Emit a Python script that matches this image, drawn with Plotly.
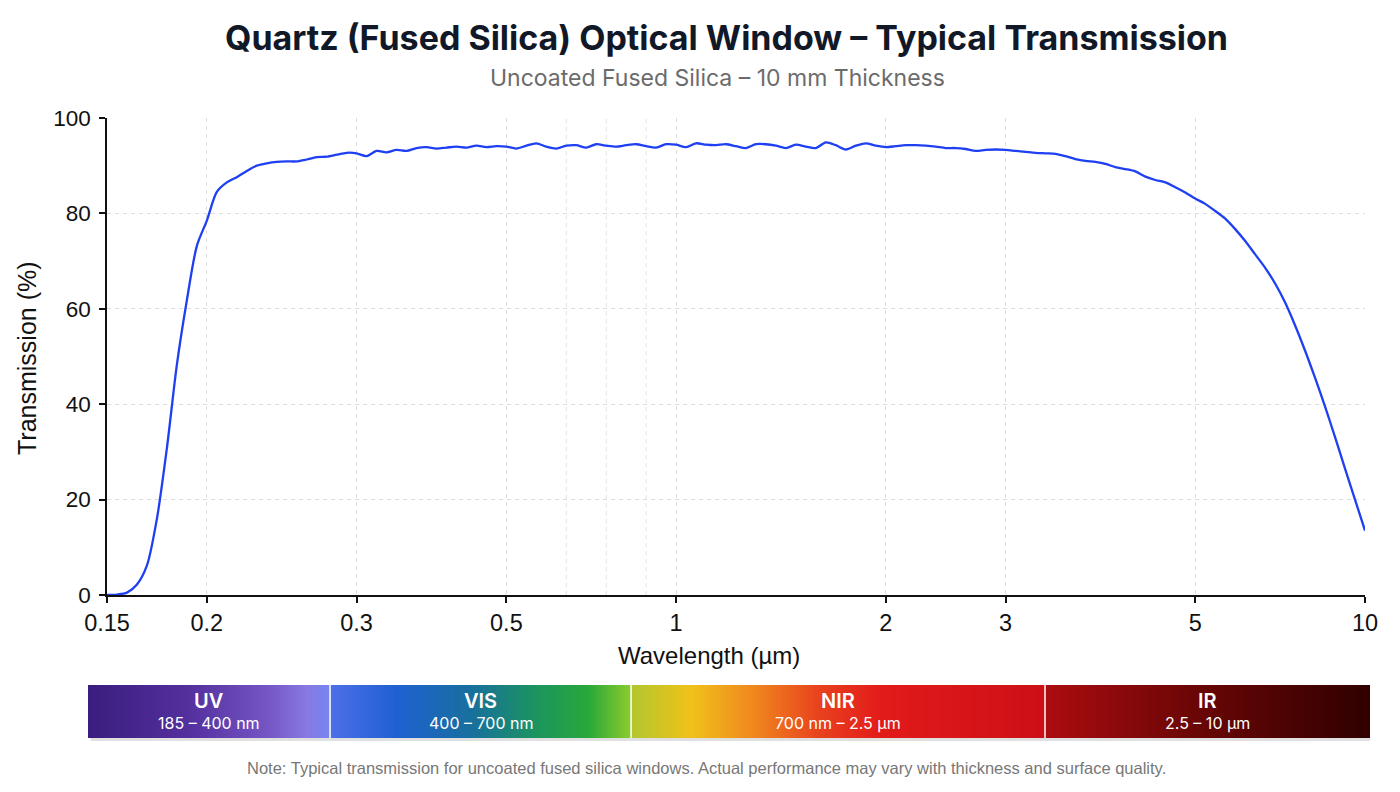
import numpy as np
import plotly.graph_objects as go

# ---------------- data ----------------
wavelength_um = [
    0.15, 0.155, 0.16, 0.165, 0.17, 0.175, 0.18, 0.185, 0.19, 0.195, 0.2,
    0.207, 0.213, 0.22, 0.227, 0.233, 0.24, 0.247, 0.253, 0.26, 0.267, 0.273, 0.28, 0.287, 0.293, 0.3,
    0.313, 0.327, 0.34, 0.353, 0.367, 0.38, 0.393, 0.407, 0.42, 0.433, 0.447, 0.46, 0.473, 0.487, 0.5,
    0.533, 0.567, 0.6, 0.633, 0.667, 0.7,
    0.725, 0.75, 0.775, 0.8,
    0.825, 0.85, 0.875, 0.9,
    0.933, 0.967, 1.0,
    1.05, 1.1, 1.14, 1.19, 1.24, 1.29, 1.33, 1.38, 1.43, 1.48, 1.52, 1.57, 1.62, 1.67, 1.71, 1.76, 1.81, 1.86, 1.9, 1.95, 2.0,
    2.08, 2.17, 2.25, 2.33, 2.42, 2.5, 2.58, 2.67, 2.75, 2.83, 2.92, 3.0,
    3.11, 3.21, 3.32, 3.42, 3.53, 3.63, 3.74, 3.84, 3.95, 4.05, 4.16, 4.26, 4.37, 4.47, 4.58, 4.68, 4.79, 4.89, 5.0,
    5.29, 5.59, 5.88, 6.18, 6.47, 6.76, 7.06, 7.35, 7.65, 7.94, 8.24, 8.53, 8.82, 9.12, 9.41, 9.71, 10.0,
]

transmission_pct = [
    0, 0.1, 0.5, 2.2, 6.2, 16.0, 30.8, 48.3, 61.8, 73.2, 78.5,
    84.5, 86.5, 87.6, 88.9, 90.0, 90.5, 90.8, 90.9, 90.9, 91.3, 91.8, 91.9, 92.3, 92.7, 92.6,
    92.0, 93.1, 92.8, 93.3, 93.1, 93.7, 93.9, 93.6, 93.8, 94.0, 93.8, 94.2, 93.9, 94.1, 94.0,
    93.6, 94.2, 94.7, 94.0, 93.6, 94.2,
    94.3, 93.8, 94.5, 94.2,
    94.0, 94.3, 94.5, 94.1,
    93.8, 94.5, 94.4,
    93.9, 94.7, 94.4, 94.3, 94.5, 94.1, 93.7, 94.5, 94.5, 94.2, 93.7, 94.4, 94.0, 93.7, 94.9, 94.3, 93.4, 94.2, 94.7, 94.2, 93.9,
    94.1, 94.3, 94.3, 94.2, 94.0, 93.7, 93.7, 93.5, 93.1, 93.3, 93.4, 93.3,
    93.1, 92.9, 92.7, 92.6, 92.5, 92.0, 91.4, 91.0, 90.8, 90.4, 89.7, 89.3, 88.8, 87.7, 87.0, 86.5, 85.5, 84.4, 83.1,
    82.0, 80.5, 78.9, 76.7, 74.2, 71.4, 68.6, 65.3, 61.3, 56.5, 51.2, 45.5, 39.5, 33.1, 26.5, 20.0, 13.5,
]

tick_um = [0.15, 0.2, 0.3, 0.5, 1, 2, 3, 5, 10]
extra_grid_um = [0.7, 0.8, 0.9]
y_ticks = [0, 20, 40, 60, 80, 100]

band_names = ["UV", "VIS", "NIR", "IR"]
band_ranges = ["185 – 400 nm", "400 – 700 nm", "700 nm – 2.5 µm", "2.5 – 10 µm"]
band_edges = [0.0, 0.1888, 0.4236, 0.7465, 1.0]   # fraction of the bar
band_colorscale = [
    [0.0, "#3a1d7e"], [0.08, "#55309f"], [0.14, "#7456c4"], [0.17, "#8878e2"], [0.1885, "#7686f0"],
    [0.1889, "#4d6fe8"], [0.24, "#1f60d2"], [0.30, "#18709c"], [0.35, "#1c955e"], [0.39, "#28a83a"], [0.4233, "#8ccb2c"],
    [0.4239, "#b2c62e"], [0.47, "#f0c21a"], [0.52, "#f0861e"], [0.57, "#e8421e"], [0.62, "#e21a1a"], [0.7462, "#cc1016"],
    [0.7468, "#ac0c10"], [0.86, "#6c0606"], [1.0, "#300000"],
]

title = "Quartz (Fused Silica) Optical Window – Typical Transmission"
subtitle = "Uncoated Fused Silica – 10 mm Thickness"
note = ("Note: Typical transmission for uncoated fused silica windows. "
        "Actual performance may vary with thickness and surface quality.")

# ---------------- figure ----------------
cats = [f"{w:g}" for w in wavelength_um]
tick_cats = [f"{w:g}" for w in tick_um]

AX_FONT = "Liberation Sans, Arial, Helvetica, sans-serif"
UI_FONT = "Inter, Roboto, Liberation Sans, sans-serif"

W, H = 1400, 792
ml, mr, mt, mb = 88, 30, 118, 54
pw, ph = W - ml - mr, H - mt - mb

def px2fx(px):
    return (px - ml) / pw

def py2fy(py):
    return (H - mb - py) / ph

fig = go.Figure()

fig.add_trace(go.Scatter(
    x=cats, y=transmission_pct, mode="lines",
    line=dict(color="#1e3ff2", width=2.3, shape="spline", smoothing=0.8),
    hoverinfo="skip", showlegend=False, xaxis="x", yaxis="y",
))

# spectral band bar
gx = np.linspace(0, 1, 1282)
fig.add_trace(go.Heatmap(
    x=gx, y=[0, 1], z=[gx, gx], colorscale=band_colorscale, zmin=0, zmax=1,
    showscale=False, hoverinfo="skip", xaxis="x2", yaxis="y2", zsmooth=False,
))

grid = dict(showgrid=True, gridcolor="#dddddd", gridwidth=1, griddash="4px,4px")

fig.update_layout(
    width=W, height=H, autosize=False,
    margin=dict(l=ml, r=mr, t=mt, b=mb),
    paper_bgcolor="white", plot_bgcolor="white",
    font=dict(family=AX_FONT, color="#111111"),
    xaxis=dict(
        type="category", domain=[px2fx(107), px2fx(1365)], range=[0, len(cats) - 1],
        tickmode="array", tickvals=tick_cats, ticktext=tick_cats,
        ticks="outside", ticklen=6, tickwidth=1.5, tickcolor="#111",
        showline=True, linecolor="#111", linewidth=1.5, zeroline=False,
        tickfont=dict(size=23.5, family=AX_FONT, color="#111"), anchor="y",
        **grid,
    ),
    yaxis=dict(
        domain=[py2fy(595), 1.0], range=[0, 100], tickvals=y_ticks,
        ticks="outside", ticklen=6, tickwidth=1.5, tickcolor="#111",
        showline=True, linecolor="#111", linewidth=1.5, zeroline=False,
        tickfont=dict(size=22.5, family=AX_FONT, color="#111"), anchor="x",
        ticklabelstandoff=4,
        **grid,
    ),
    xaxis2=dict(domain=[0, 1], range=[0, 1], visible=False, anchor="y2", fixedrange=True),
    yaxis2=dict(domain=[0, py2fy(685)], range=[0, 1], visible=False, anchor="x2", fixedrange=True),
)

shapes = []
for g in extra_grid_um:
    gi = cats.index(f"{g:g}")
    shapes.append(dict(type="line", xref="x", yref="y", x0=gi, x1=gi, y0=0, y1=100,
                       line=dict(color="#e2e2e2", width=1, dash="4px,4px"), layer="below"))
for e in band_edges[1:-1]:
    shapes.append(dict(type="line", xref="x2", yref="y2", x0=e, x1=e, y0=0, y1=1,
                       line=dict(color="white", width=1.5), layer="above"))
# soft shadow under the band bar
shapes.append(dict(type="rect", xref="x2", yref="paper", x0=0.002, x1=1.0,
                   y0=py2fy(741), y1=py2fy(690), fillcolor="rgba(0,0,0,0.12)",
                   line=dict(width=0), layer="below"))
fig.update_layout(shapes=shapes)

ann = [
    dict(text=f"<b>{title}</b>", xref="paper", yref="paper", x=px2fx(726.5), y=py2fy(38),
         showarrow=False, font=dict(size=34, family=UI_FONT, color="#111827"),
         xanchor="center", yanchor="middle"),
    dict(text=subtitle, xref="paper", yref="paper", x=px2fx(717.5), y=py2fy(78),
         showarrow=False, font=dict(size=23, family=UI_FONT, color="#6b6b6b"),
         xanchor="center", yanchor="middle"),
    dict(text="Wavelength (µm)", xref="paper", yref="paper", x=px2fx(708.5), y=py2fy(655),
         showarrow=False, font=dict(size=24, family=AX_FONT, color="#111"),
         xanchor="center", yanchor="middle"),
    dict(text="Transmission (%)", xref="paper", yref="paper", x=px2fx(27), y=py2fy(358),
         showarrow=False, textangle=-90, font=dict(size=25, family=AX_FONT, color="#111"),
         xanchor="center", yanchor="middle"),
    dict(text=note, xref="paper", yref="paper", x=px2fx(706), y=py2fy(768),
         showarrow=False, font=dict(size=16.5, family=AX_FONT, color="#777777"),
         xanchor="center", yanchor="middle"),
]
for i, (name, rng) in enumerate(zip(band_names, band_ranges)):
    cx = (band_edges[i] + band_edges[i + 1]) / 2
    ann.append(dict(text=name, xref="x2", yref="y2", x=cx, y=0.7, showarrow=False,
                    font=dict(size=20, family=UI_FONT, color="white", weight=600),
                    xanchor="center", yanchor="middle"))
    ann.append(dict(text=rng, xref="x2", yref="y2", x=cx, y=0.29, showarrow=False,
                    font=dict(size=16, family=UI_FONT, color="white"),
                    xanchor="center", yanchor="middle"))
fig.update_layout(annotations=ann)

fig.write_html("out.html")
